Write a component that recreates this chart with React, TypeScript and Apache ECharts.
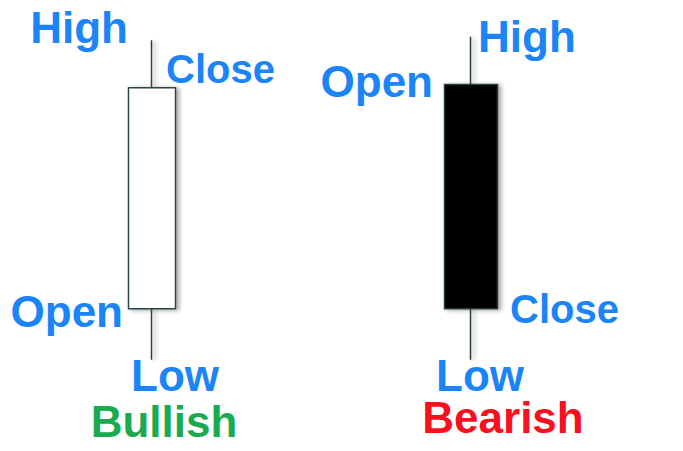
import React, { useEffect, useRef } from "react";
import * as echarts from "echarts";

// Candles: [open, close, low, high]
const categories = ["Bullish", "Bearish"];
const bullishCandle = [18, 83, 3, 97];
const bearishCandle = [84, 18, 3, 98];
const titleTexts = ["Bullish", "Bearish"];

const BLUE = "#1b84f6";
const GREEN = "#1aaa50";
const RED = "#f8101e";
const FONT = '"Liberation Sans", Arial, sans-serif';

const KEY_INDEX: Record<string, number> = { open: 0, close: 1, low: 2, high: 3 };

const labelLayout = [
  { text: "High", cat: 0, key: "high", dx: -24, dy: 3, align: "right", size: 44 },
  { text: "Close", cat: 0, key: "close", dx: 14, dy: -5, align: "left", size: 40 },
  { text: "Open", cat: 0, key: "open", dx: -29, dy: 18, align: "right", size: 44 },
  { text: "Low", cat: 0, key: "low", dx: 23, dy: 31, align: "center", size: 44 },
  { text: "High", cat: 1, key: "high", dx: 7, dy: 15, align: "left", size: 44 },
  { text: "Open", cat: 1, key: "open", dx: -38, dy: 12, align: "right", size: 44 },
  { text: "Close", cat: 1, key: "close", dx: 39, dy: 14, align: "left", size: 40 },
  { text: "Low", cat: 1, key: "low", dx: 9, dy: 31, align: "center", size: 44 },
];
const titleLayout = [
  { cat: 0, dx: 12, dy: 77, color: GREEN },
  { cat: 1, dx: 32, dy: 73, color: RED },
];

export default function App() {
  const ref = useRef<HTMLDivElement>(null);
  useEffect(() => {
    if (!ref.current) return;
    const chart = echarts.init(ref.current, null, { renderer: "svg" });
    const candles = [bullishCandle, bearishCandle];
    chart.setOption({
      animation: false,
      backgroundColor: "#ffffff",
      grid: { left: 152, right: 212, top: 30, bottom: 81 },
      xAxis: {
        type: "category",
        data: categories,
        boundaryGap: false,
        show: false,
      },
      yAxis: { type: "value", min: 0, max: 100, show: false },
      series: [
        {
          type: "candlestick",
          clip: false,
          barWidth: 47,
          data: [bullishCandle, "-"],
          itemStyle: {
            color: "#ffffff",
            borderColor: "#2c4646",
            borderWidth: 1.5,
            shadowBlur: 4,
            shadowOffsetX: 3,
            shadowOffsetY: 1,
            shadowColor: "rgba(0,0,0,0.35)",
          },
        },
        {
          type: "candlestick",
          clip: false,
          barWidth: 53,
          data: ["-", bearishCandle],
          itemStyle: {
            color0: "#000000",
            borderColor0: "#2c3c3c",
            borderWidth: 1.5,
            shadowBlur: 4,
            shadowOffsetX: 3,
            shadowOffsetY: 1,
            shadowColor: "rgba(0,0,0,0.35)",
          },
        },
      ],
    });

    const elements: any[] = [];
    labelLayout.forEach((l) => {
      const v = candles[l.cat][KEY_INDEX[l.key]];
      const p = chart.convertToPixel({ gridIndex: 0 }, [l.cat, v]) as number[];
      const baseline = p[1] + l.dy;
      elements.push({
        type: "text",
        x: p[0] + l.dx,
        y: baseline - 0.35 * l.size,
        style: {
          text: l.text,
          font: `bold ${l.size}px ${FONT}`,
          fill: BLUE,
          textAlign: l.align,
          textVerticalAlign: "middle",
        },
      });
    });
    titleLayout.forEach((t, i) => {
      const low = candles[t.cat][2];
      const p = chart.convertToPixel({ gridIndex: 0 }, [t.cat, low]) as number[];
      const baseline = p[1] + t.dy;
      elements.push({
        type: "text",
        x: p[0] + t.dx,
        y: baseline - 0.35 * 44,
        style: {
          text: titleTexts[i],
          font: `bold 44px ${FONT}`,
          fill: t.color,
          textAlign: "center",
          textVerticalAlign: "middle",
        },
      });
    });
    chart.setOption({ graphic: { elements } });

    return () => chart.dispose();
  }, []);
  return (
    <div
      ref={ref}
      style={{ position: "fixed", left: 0, top: 0, width: 683, height: 451 }}
    />
  );
}
